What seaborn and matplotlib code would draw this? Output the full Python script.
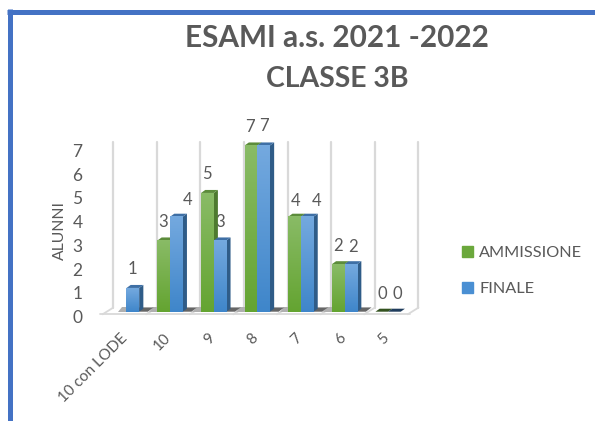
import numpy as np
import pandas as pd
import seaborn as sns
import matplotlib.pyplot as plt
from matplotlib.lines import Line2D
from matplotlib.patches import Patch, Polygon
from matplotlib.colors import LinearSegmentedColormap
from matplotlib.transforms import ScaledTranslation

# Dati
categorie = ["10 con LODE", "10", "9", "8", "7", "6", "5"]
ammissione = [np.nan, 3, 5, 7, 4, 2, 0]
finale = [1, 4, 3, 7, 4, 2, 0]
tick_y = [0, 1, 2, 3, 4, 5, 6, 7]

df = pd.DataFrame({
    "voto": categorie * 2,
    "alunni": ammissione + finale,
    "serie": ["AMMISSIONE"] * 7 + ["FINALE"] * 7,
})

W, H = 595, 421
sns.set_style("white")
plt.rcParams["font.family"] = ["Lato", "DejaVu Sans"]
grigio = "#595959"

fig = plt.figure(figsize=(W / 100, H / 100), dpi=100)
# assi in pixel: sinistra 95, destra 425, alto 130, basso 320
ax = fig.add_axes([95 / W, 1 - 320 / H, 330 / W, 190 / H])

palette = {"AMMISSIONE": "#6ba83c", "FINALE": "#4a8fd3"}
sns.barplot(data=df, x="voto", y="alunni", hue="serie", order=categorie, palette=palette,
            width=0.58, gap=0, legend=False, ax=ax, zorder=3)

ax.set_xlim((95 - 126.5) / 43.6, (425 - 126.5) / 43.6)
ax.set_ylim(-8.3 / 23.75, 181.7 / 23.75)
xlim, ylim = ax.get_xlim(), ax.get_ylim()
sns.despine(ax=ax, left=True, bottom=True)

# Pareti e pavimento
griglia = "#d9d9d9"
dx = 8.5 / 43.6
y_front, y_back, y_top = -0.11, 0.17, 7.16
for i in range(len(categorie) + 1):
    x0 = i - 0.5
    ax.plot([x0 + dx, x0 + dx], [y_back, y_top], color=griglia, lw=1.6, zorder=1)
    ax.plot([x0 - 0.05, x0 + dx], [y_front, y_back], color=griglia, lw=1.3, zorder=1)
ax.plot([-0.6, len(categorie) - 0.5], [y_front, y_front], color=griglia, lw=1.3, zorder=1)

# Barre con sfumatura e finto 3D
colori = {
    0: ("#89bb66", "#64a431", "#4e7a2f", "#5c8c3b", "#33521f"),
    1: ("#74a9df", "#3f86ca", "#2f5c88", "#3e6fa5", "#1f3c5c"),
}
lato_x, lato_y = 4.2 / 43.6, 3 / 23.75

# ombre sul pavimento prima delle barre
for cont in ax.containers:
    for bar in cont:
        h = bar.get_height()
        if h > 0:
            x0, x1 = bar.get_x(), bar.get_x() + bar.get_width()
            ax.add_patch(Polygon([(x1, 0), (x1 + 0.2, 0), (x1 + 0.33, 0.18), (x1, 0.18)],
                                 color="#666666", lw=0, zorder=2))
            ax.add_patch(Polygon([(x0 - 0.2, 0), (x0, 0), (x0, 0.18), (x0 - 0.1, 0.18)],
                                 color="#b0b0b0", lw=0, zorder=1.5))

for s, cont in enumerate(ax.containers):
    chiaro, scuro, lato, sopra, piatto = colori[s]
    cmap = LinearSegmentedColormap.from_list("g", [chiaro, scuro])
    for bar in cont:
        x0, w, h = bar.get_x(), bar.get_width(), bar.get_height()
        if np.isnan(h):
            continue
        bar.set_alpha(0)
        ax.add_patch(Polygon([(x0 + w, 0), (x0 + w + lato_x, lato_y), (x0 + w + lato_x, h + lato_y), (x0 + w, h)],
                             color=lato, lw=0, zorder=3 + s))
        ax.add_patch(Polygon([(x0, h), (x0 + lato_x, h + lato_y), (x0 + w + lato_x, h + lato_y), (x0 + w, h)],
                             color=sopra if h > 0 else piatto, lw=0, zorder=3 + s))
        if h > 0:
            ax.imshow(np.linspace(0, 1, 64).reshape(-1, 1), extent=(x0, x0 + w, 0, h), origin="upper",
                      cmap=cmap, aspect="auto", zorder=3.5 + s)
ax.set_xlim(xlim)
ax.set_ylim(ylim)

# Etichette dati, scostamenti in pixel rispetto alla cima della barra
scost = [
    [(-1, 18), (0, 19), (-1, 18), (1, 16), (0, 18), (1, 18)],
    [(0, 19), (11, 17), (0, 18), (0, 19), (9, 16), (2, 17), (3, 18)],
]
for cont, off in zip(ax.containers, scost):
    barre = [b for b in cont if not np.isnan(b.get_height())]
    for bar, (ox, oy) in zip(barre, off):
        ax.annotate(f"{int(bar.get_height())}", (bar.get_x() + bar.get_width() / 2, bar.get_height()),
                    xytext=(ox * 0.72, oy * 0.72), textcoords="offset points", ha="center", va="center",
                    fontsize=12, color=grigio, zorder=2.5)

# Assi
ax.set_yticks(tick_y)
ax.set_yticklabels(tick_y, fontsize=12.5, color=grigio)
ax.tick_params(axis="y", length=0, pad=9)
sposta = ScaledTranslation(0, -3.5 / 72, fig.dpi_scale_trans)
for t in ax.get_yticklabels():
    t.set_transform(t.get_transform() + sposta)
ax.set_xticks(range(len(categorie)))
ax.set_xticklabels(categorie, rotation=45, ha="right", va="top", rotation_mode="anchor",
                   fontsize=11, color=grigio)
ax.tick_params(axis="x", length=0, pad=8)
sposta_x = ScaledTranslation(-4.5 / 72, 0, fig.dpi_scale_trans)
for t in ax.get_xticklabels():
    t.set_transform(t.get_transform() + sposta_x)
ax.set_xlabel("")
ax.set_ylabel("ALUNNI", fontsize=11.3, color=grigio)
ax.yaxis.set_label_coords((67 - 95) / 330, (320 - 231) / 190)

# Legenda
maniglie = [Patch(color=palette["AMMISSIONE"]), Patch(color=palette["FINALE"])]
fig.legend(maniglie, ["AMMISSIONE", "FINALE"], loc="center left", bbox_to_anchor=(462 / W, 1 - 271 / H),
           frameon=False, fontsize=11.7, labelcolor=grigio, handlelength=0.7, handleheight=0.7,
           handletextpad=0.35, labelspacing=1.3, borderpad=0, borderaxespad=0)

# Titolo
fig.text(337 / W, 1 - 38 / H, "ESAMI a.s. 2021 -2022", ha="center", va="center",
         fontsize=21.4, fontweight="bold", color=grigio)
fig.text(337 / W, 1 - 79 / H, "CLASSE 3B", ha="center", va="center",
         fontsize=20.4, fontweight="bold", color=grigio)

# Cornice blu
blu = "#4472c4"
fig.add_artist(Line2D([9.5 / W, 9.5 / W], [0, 1 - 9 / H], color=blu, lw=3.6, solid_capstyle="butt"))
fig.add_artist(Line2D([7 / W, 1], [1 - 11.5 / H, 1 - 11.5 / H], color=blu, lw=3.6, solid_capstyle="butt"))

fig.savefig("out.png", dpi=100)
